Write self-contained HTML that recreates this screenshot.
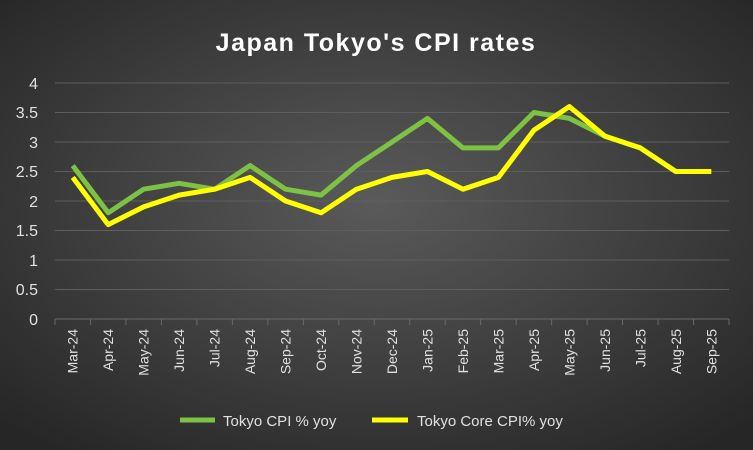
<!DOCTYPE html>
<html><head><style>
html,body{margin:0;width:753px;height:450px;overflow:hidden;background:#333}
svg{display:block}
</style></head><body>
<svg width="753" height="450" xmlns="http://www.w3.org/2000/svg" font-family="'Liberation Sans',sans-serif">
<defs><radialGradient id="g" cx="50%" cy="45%" r="70%"><stop offset="0" stop-color="#5a5a5a"/><stop offset="1" stop-color="#262626"/></radialGradient></defs>
<rect width="753" height="450" fill="url(#g)"/>
<text x="376" y="51" text-anchor="middle" fill="#fff" font-size="25" font-weight="bold" letter-spacing="1.5">Japan Tokyo's CPI rates</text>
<g stroke="#5e5e5e" stroke-width="1">
<line x1="55" x2="729" y1="83" y2="83"/><line x1="55" x2="729" y1="112.5" y2="112.5"/><line x1="55" x2="729" y1="142" y2="142"/><line x1="55" x2="729" y1="171.5" y2="171.5"/><line x1="55" x2="729" y1="201" y2="201"/><line x1="55" x2="729" y1="230.5" y2="230.5"/><line x1="55" x2="729" y1="260" y2="260"/><line x1="55" x2="729" y1="289.5" y2="289.5"/>
</g>
<g stroke="#6a6a6a"><line x1="55" x2="729" y1="319" y2="319"/></g>
<g fill="#e0e0e0" font-size="16" text-anchor="end">
<text x="38" y="89">4</text><text x="38" y="118">3.5</text><text x="38" y="148">3</text><text x="38" y="177">2.5</text><text x="38" y="207">2</text><text x="38" y="236">1.5</text><text x="38" y="266">1</text><text x="38" y="295">0.5</text><text x="38" y="325">0</text>
</g>
<g id="ticks" stroke="#6a6a6a"></g>
<g id="xl" fill="#e0e0e0" font-size="14"></g>
<polyline id="cpi" fill="none" stroke="#7dc242" stroke-width="5" stroke-linejoin="round"/>
<polyline id="core" fill="none" stroke="#ffff00" stroke-width="5" stroke-linejoin="round"/>
<line x1="180" x2="215" y1="420" y2="420" stroke="#7dc242" stroke-width="5"/>
<text x="223" y="426" fill="#e0e0e0" font-size="15">Tokyo CPI % yoy</text>
<line x1="372" x2="408" y1="420" y2="420" stroke="#ffff00" stroke-width="5"/>
<text x="417" y="426" fill="#e0e0e0" font-size="15">Tokyo Core CPI% yoy</text>
<script>
var L=["Mar-24","Apr-24","May-24","Jun-24","Jul-24","Aug-24","Sep-24","Oct-24","Nov-24","Dec-24","Jan-25","Feb-25","Mar-25","Apr-25","May-25","Jun-25","Jul-25","Aug-25","Sep-25"];
var a=[2.6,1.8,2.2,2.3,2.2,2.6,2.2,2.1,2.6,3.0,3.4,2.9,2.9,3.5,3.4,3.1,2.9,2.5,2.5];
var b=[2.4,1.6,1.9,2.1,2.2,2.4,2.0,1.8,2.2,2.4,2.5,2.2,2.4,3.2,3.6,3.1,2.9,2.5,2.5];
var w=(729-55)/19,ns="http://www.w3.org/2000/svg";
function X(i){return 55+w*(i+0.5)}function Y(v){return 319-v*59}
document.getElementById("cpi").setAttribute("points",a.map((v,i)=>X(i)+","+Y(v)).join(" "));
document.getElementById("core").setAttribute("points",b.map((v,i)=>X(i)+","+Y(v)).join(" "));
var t=document.getElementById("ticks"),xl=document.getElementById("xl");
for(var i=0;i<=19;i++){var l=document.createElementNS(ns,"line");l.setAttribute("x1",55+w*i);l.setAttribute("x2",55+w*i);l.setAttribute("y1",319);l.setAttribute("y2",325);t.appendChild(l);}
L.forEach(function(s,i){var e=document.createElementNS(ns,"text");e.textContent=s;e.setAttribute("text-anchor","end");e.setAttribute("transform","translate("+(X(i)+5)+",329) rotate(-90)");xl.appendChild(e);});
</script>
</svg>
</body></html>
